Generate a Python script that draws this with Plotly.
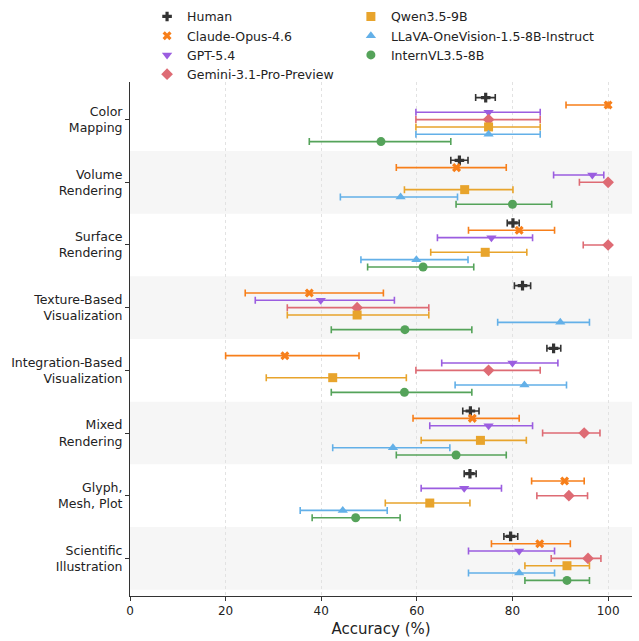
import plotly.graph_objects as go

categories = ["Color<br>Mapping", "Volume<br>Rendering", "Surface<br>Rendering",
              "Texture-Based<br>Visualization", "Integration-Based<br>Visualization",
              "Mixed<br>Rendering", "Glyph,<br>Mesh, Plot", "Scientific<br>Illustration"]

models = ["Human", "Claude-Opus-4.6", "GPT-5.4", "Gemini-3.1-Pro-Preview",
          "Qwen3.5-9B", "LLaVA-OneVision-1.5-8B-Instruct", "InternVL3.5-8B"]

# mean accuracy per category
human_mean = [74.4, 68.9, 80.1, 82.1, 88.6, 71.2, 71.1, 79.6]
claude_mean = [100.0, 68.3, 81.4, 37.5, 32.4, 71.6, 90.9, 85.7]
gpt_mean = [75.0, 96.7, 75.6, 39.9, 80.0, 75.0, 69.9, 81.4]
gemini_mean = [75.0, 100.0, 100.0, 47.5, 75.0, 95.0, 91.8, 95.8]
qwen_mean = [75.0, 70.0, 74.3, 47.5, 42.4, 73.3, 62.7, 91.4]
llava_mean = [75.0, 56.6, 59.9, 90.0, 82.5, 55.0, 44.5, 81.4]
intern_mean = [52.5, 80.0, 61.3, 57.5, 57.4, 68.2, 47.2, 91.4]

# lower / upper bounds of the error bars
human_lo = [72.3, 67.1, 78.9, 80.4, 87.2, 69.6, 69.9, 78.2]
human_hi = [76.4, 70.7, 81.4, 83.8, 90.1, 73.0, 72.4, 81.1]
claude_lo = [91.2, 55.7, 70.8, 24.1, 20.0, 59.2, 84.0, 75.6]
claude_hi = [100.0, 78.7, 88.8, 53.0, 47.9, 81.4, 95.0, 92.1]
gpt_lo = [59.8, 88.6, 64.3, 26.2, 65.2, 62.7, 60.9, 70.8]
gpt_hi = [85.8, 99.1, 84.2, 55.3, 89.5, 84.2, 77.7, 88.8]
gemini_lo = [59.8, 94.0, 94.8, 32.9, 59.8, 86.3, 85.1, 88.1]
gemini_hi = [85.8, 100.0, 100.0, 62.5, 85.8, 98.3, 95.7, 98.5]
qwen_lo = [59.8, 57.4, 62.9, 32.9, 28.5, 60.9, 53.4, 82.6]
qwen_hi = [85.8, 80.1, 83.0, 62.5, 57.8, 82.9, 71.1, 96.1]
llava_lo = [59.8, 44.0, 48.3, 76.9, 68.0, 42.4, 35.6, 70.8]
llava_hi = [85.8, 68.5, 70.7, 96.1, 91.3, 66.9, 53.8, 88.8]
intern_lo = [37.5, 68.2, 49.7, 42.1, 42.1, 55.7, 38.1, 82.6]
intern_hi = [67.1, 88.2, 71.9, 71.5, 71.5, 78.7, 56.5, 96.1]

x_ticks = [0, 20, 40, 60, 80, 100]

means = [human_mean, claude_mean, gpt_mean, gemini_mean, qwen_mean, llava_mean, intern_mean]
lows = [human_lo, claude_lo, gpt_lo, gemini_lo, qwen_lo, llava_lo, intern_lo]
highs = [human_hi, claude_hi, gpt_hi, gemini_hi, qwen_hi, llava_hi, intern_hi]

colors = ["#333333", "#F77F1A", "#9B5DE0", "#DE6B74", "#E8A42C", "#63B0E8", "#55A35A"]
symbols = ["cross", "x", "triangle-down", "diamond", "square", "triangle-up", "circle"]
sizes = [8, 8, 9, 9, 9, 9, 9]
legends = ["legend", "legend", "legend", "legend", "legend2", "legend2", "legend2"]

step = 0.117
fig = go.Figure()
n = len(categories)
for i, name in enumerate(models):
    m = means[i]
    ys = [k + (i - 3) * step for k in range(n)]
    plus = [h - v for h, v in zip(highs[i], m)]
    minus = [v - l for v, l in zip(m, lows[i])]
    fig.add_trace(go.Scatter(
        x=m, y=ys, mode="markers", name=name, legend=legends[i],
        marker=dict(symbol=symbols[i], size=sizes[i], color=colors[i],
                    line=dict(width=0)),
        error_x=dict(type="data", symmetric=False, array=plus, arrayminus=minus,
                     color=colors[i], thickness=1.6, width=3.5),
        cliponaxis=False,
    ))

shapes = []
for k in range(n):
    if k % 2 == 1:
        shapes.append(dict(type="rect", xref="paper", yref="y", x0=0, x1=1,
                           y0=k - 0.5, y1=min(k + 0.5, 7.6), fillcolor="#F6F6F6",
                           line=dict(width=0), layer="below"))

font = "DejaVu Sans, Verdana, sans-serif"
fig.update_layout(
    width=639, height=641,
    margin=dict(l=130, r=7, t=82, b=45, autoexpand=False),
    plot_bgcolor="white", paper_bgcolor="white",
    font=dict(family=font, size=13, color="#222"),
    shapes=shapes,
    showlegend=True,
    legend=dict(x=0.034, y=1.156, xanchor="left", yanchor="top",
                font=dict(size=12.5, family=font, color="#222"),
                bgcolor="rgba(0,0,0,0)", tracegroupgap=0, itemwidth=30),
    legend2=dict(x=0.44, y=1.156, xanchor="left", yanchor="top",
                 font=dict(size=12.5, family=font, color="#222"),
                 bgcolor="rgba(0,0,0,0)", tracegroupgap=0, itemwidth=30),
    xaxis=dict(range=[0, 105], tickvals=x_ticks, ticks="outside", ticklen=4,
               tickcolor="#333", showline=True, linecolor="#333", linewidth=1,
               showgrid=True, gridcolor="#E2E2E2", griddash="dot", gridwidth=1,
               zeroline=False, tickfont=dict(size=12),
               title=dict(text="Accuracy (%)", font=dict(size=15), standoff=6)),
    yaxis=dict(range=[7.6, -0.6], tickvals=list(range(n)), ticktext=categories,
               ticks="outside", ticklen=4, tickcolor="#333", showline=True,
               linecolor="#333", linewidth=1, showgrid=False, zeroline=False,
               tickfont=dict(size=12.5)),
)

fig.write_html("out.html")
